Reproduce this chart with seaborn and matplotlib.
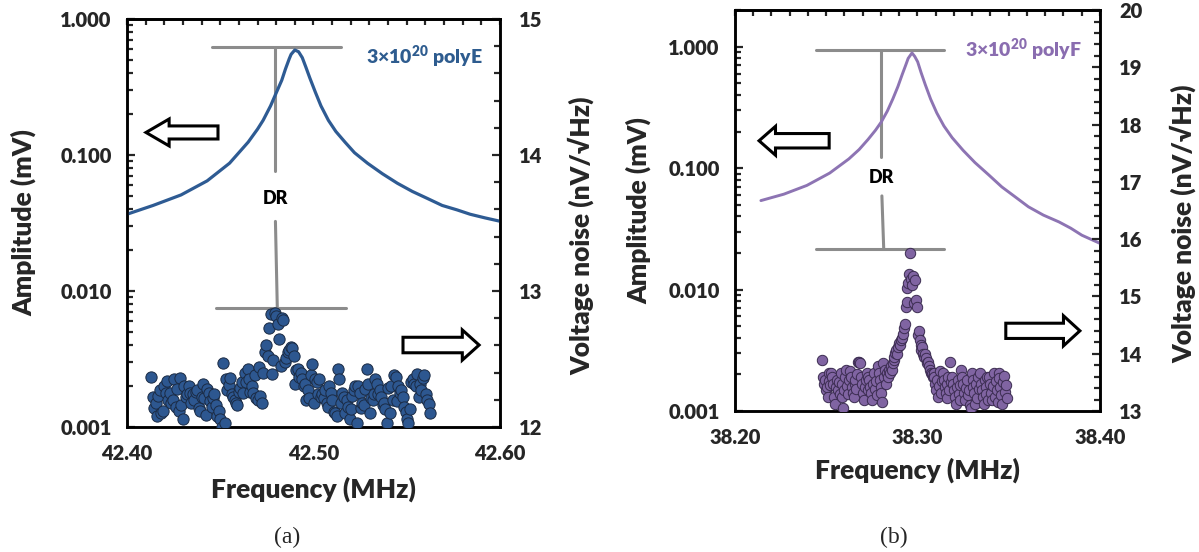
import numpy as np
import pandas as pd
import matplotlib
matplotlib.use("Agg")
import matplotlib.pyplot as plt
from matplotlib.ticker import MultipleLocator, LogLocator, FormatStrFormatter, NullFormatter
from matplotlib.patches import FancyArrow
import seaborn as sns

# ---- panel (a): 3x10^20 polyE ----
freq_a_line = [42.400, 42.414, 42.429, 42.443, 42.455, 42.465, 42.470, 42.473, 42.477,
               42.480, 42.483, 42.485, 42.487, 42.488, 42.490, 42.492, 42.494, 42.496,
               42.498, 42.501, 42.504, 42.508, 42.512, 42.517, 42.522, 42.529, 42.537,
               42.545, 42.553, 42.561, 42.569, 42.577, 42.584, 42.592, 42.600]
amp_a_line = [0.0367, 0.0426, 0.0509, 0.0646, 0.0871, 0.1245, 0.155, 0.180, 0.230,
              0.286, 0.355, 0.430, 0.510, 0.550, 0.592, 0.575, 0.520, 0.440,
              0.370, 0.290, 0.230, 0.180, 0.149, 0.124, 0.104, 0.087, 0.0728,
              0.062, 0.054, 0.048, 0.0426, 0.0395, 0.0367, 0.0345, 0.0326]
noise_a = [
    12.37, 12.22, 12.14, 12.18, 12.08, 12.23, 12.27, 12.10, 12.12, 12.30, 12.25, 12.34, 12.20,
    12.25, 12.18, 12.20, 12.35, 12.15, 12.28, 12.12, 12.36, 12.16, 12.06, 12.30, 12.22, 12.24,
    12.30, 12.25, 12.18, 12.24, 12.20, 12.26, 12.27, 12.14, 12.12, 12.22, 12.32, 12.21, 12.09,
    12.28, 12.25, 12.19, 12.15, 12.21, 12.24, 12.16, 12.08, 12.12, 12.06, 12.00, 12.47, 12.03,
    12.35, 12.27, 12.31, 12.36, 12.24, 12.22, 12.20, 12.18, 12.16, 12.26, 12.29, 12.33, 12.25,
    12.40, 12.33, 12.43, 12.35, 12.26, 12.30, 12.25, 12.38, 12.21, 12.20, 12.44, 12.23, 12.18,
    12.40, 12.55, 12.60, 12.52, 12.73, 12.83, 12.39, 12.49, 12.84, 12.82, 12.76, 12.65, 12.45,
    12.80, 12.79, 12.48, 12.51, 12.55, 12.57, 12.59, 12.58, 12.52, 12.32, 12.42, 12.43, 12.37,
    12.40, 12.35, 12.30, 12.32, 12.20, 12.27, 12.21, 12.38, 12.46, 12.18, 12.35, 12.33, 12.24,
    12.35, 12.22, 12.24, 12.21, 12.27, 12.18, 12.15, 12.30, 12.25, 12.20, 12.11, 12.10, 12.08,
    12.43, 12.35, 12.18, 12.25, 12.22, 12.10, 12.20, 12.15, 12.06, 12.13, 12.23, 12.27, 12.30,
    12.03, 12.30, 12.25, 12.14, 12.18, 12.16, 12.28, 12.43, 12.32, 12.10, 12.21, 12.20, 12.24,
    12.35, 12.32, 12.24, 12.27, 12.22, 12.16, 12.18, 12.13, 12.03, 12.29, 12.10, 12.30, 12.20,
    12.38, 12.37, 12.19, 12.30, 12.25, 12.27, 12.22, 12.15, 12.11, 12.06, 12.03, 12.13, 12.33,
    12.35, 12.32, 12.30, 12.39, 12.22, 12.32, 12.27, 12.36, 12.38, 12.24, 12.20, 12.17, 12.10,
]
sweep_a = (42.413, 42.5625)   # noise sweep range (MHz)

# ---- panel (b): 3x10^20 polyF ----
freq_b_line = [38.2142, 38.2268, 38.2394, 38.2519, 38.2624, 38.2680, 38.2729, 38.2770,
               38.2802, 38.2835, 38.2865, 38.2893, 38.2917, 38.2935, 38.2949, 38.2970,
               38.2985, 38.3001, 38.3020, 38.3043, 38.3072, 38.3106, 38.3145, 38.3190,
               38.3250, 38.3315, 38.3390, 38.3462, 38.3535, 38.3608, 38.3690, 38.3776,
               38.3840, 38.3901, 38.4000]
amp_b_line = [0.054, 0.061, 0.072, 0.091, 0.119, 0.142, 0.172, 0.205,
              0.240, 0.295, 0.371, 0.470, 0.593, 0.700, 0.800, 0.887,
              0.830, 0.750, 0.610, 0.485, 0.370, 0.284, 0.222, 0.178,
              0.140, 0.111, 0.088, 0.070, 0.058, 0.048, 0.041, 0.036,
              0.032, 0.028, 0.024]
noise_b = [
    13.89, 13.60, 13.48, 13.55, 13.37, 13.42, 13.25, 13.66, 13.52, 13.45,
    13.66, 13.60, 13.48, 13.25, 13.13, 13.42, 13.55, 13.37, 13.50, 13.30,
    13.66, 13.48, 13.25, 13.05, 13.37, 13.60, 13.72, 13.44, 13.30, 13.55,
    13.70, 13.60, 13.42, 13.31, 13.25, 13.48, 13.55, 13.38, 13.64, 13.86,
    13.86, 13.83, 13.60, 13.48, 13.31, 13.19, 13.42, 13.55, 13.66, 13.36,
    13.60, 13.55, 13.42, 13.31, 13.19, 13.48, 13.66, 13.38, 13.52, 13.28,
    13.78, 13.66, 13.55, 13.42, 13.31, 13.16, 13.83, 13.60, 13.72, 13.48,
    13.66, 13.60, 13.72, 13.66, 13.78, 13.72, 13.83, 13.89, 13.95, 14.02,
    14.06, 14.00, 14.12, 14.18, 14.15, 14.24, 14.28, 14.35, 14.45, 14.52,
    14.82, 14.91, 15.14, 15.23, 15.40, 15.75, 15.30, 15.20, 15.36, 14.88,
    15.28, 14.93, 14.82, 14.33, 14.40, 14.24, 14.15, 14.06, 14.12, 14.00,
    13.95, 14.00, 13.92, 13.83, 13.86, 13.78, 13.72, 13.66, 13.64, 13.60,
    13.66, 13.60, 13.48, 13.37, 13.55, 13.25, 13.44, 13.70, 13.32, 13.52,
    13.66, 13.55, 13.42, 13.31, 13.22, 13.48, 13.60, 13.36, 13.86, 13.50,
    13.60, 13.48, 13.37, 13.25, 13.13, 13.42, 13.55, 13.30, 13.19, 13.45,
    13.72, 13.60, 13.48, 13.31, 13.19, 13.40, 13.55, 13.28, 13.36, 13.10,
    13.05, 13.66, 13.55, 13.42, 13.31, 13.13, 13.48, 13.22, 13.60, 13.38,
    13.66, 13.48, 13.37, 13.25, 13.13, 13.55, 13.42, 13.30, 13.60, 13.20,
    13.60, 13.48, 13.31, 13.19, 13.44, 13.66, 13.25, 13.52, 13.36, 13.16,
    13.66, 13.57, 13.42, 13.28, 13.13, 13.50, 13.62, 13.34, 13.46, 13.22,
]
sweep_b = (38.2477, 38.3490)

sns.set_theme(style="white")
plt.rcParams["font.family"] = ["Lato", "DejaVu Sans"]
plt.rcParams["font.weight"] = "heavy"
plt.rcParams["axes.labelweight"] = "heavy"
plt.rcParams["mathtext.fontset"] = "custom"
plt.rcParams["mathtext.rm"] = "Lato:heavy"
plt.rcParams["mathtext.bf"] = "Lato:heavy"
plt.rcParams["axes.linewidth"] = 1.8

LABEL_SIZE = 19
TICK_SIZE = 14.5


def style_axes(ax, ax2, sec, xlim, ylim, y2lim, xminor_bottom):
    ax.set_yscale("log")
    ax.set_xlim(*xlim)
    ax.set_ylim(*ylim)
    ax2.set_ylim(*y2lim)

    ax.xaxis.set_major_locator(MultipleLocator(0.1))
    ax.xaxis.set_minor_locator(MultipleLocator(xminor_bottom))
    ax.xaxis.set_major_formatter(FormatStrFormatter("%.2f"))
    ax.yaxis.set_major_locator(LogLocator(base=10))
    ax.yaxis.set_minor_locator(LogLocator(base=10, subs=np.arange(2, 10)))
    ax.yaxis.set_major_formatter(FormatStrFormatter("%.3f"))
    ax.yaxis.set_minor_formatter(NullFormatter())

    sec.xaxis.set_major_locator(MultipleLocator(0.1))
    sec.xaxis.set_minor_locator(MultipleLocator(0.01))
    sec.tick_params(axis="x", which="both", direction="in", labeltop=False,
                    length=4, width=1.6)

    ax2.yaxis.set_major_locator(MultipleLocator(1))
    ax2.yaxis.set_minor_locator(MultipleLocator(0.2))

    ax.tick_params(axis="both", which="both", direction="in", width=1.6,
                   labelsize=TICK_SIZE, right=False, top=False)
    ax.tick_params(axis="both", which="major", length=6)
    ax.tick_params(axis="both", which="minor", length=4)
    ax.tick_params(axis="y", pad=11)
    ax.tick_params(axis="x", pad=12)
    ax2.tick_params(axis="y", which="both", direction="in", width=1.6,
                    labelsize=TICK_SIZE, pad=14)
    ax2.tick_params(axis="y", which="major", length=6)
    ax2.tick_params(axis="y", which="minor", length=4)
    for a in (ax, ax2):
        for s in a.spines.values():
            s.set_linewidth(1.8)
            s.set_color("black")
    ax.set_xlabel("")
    ax.set_ylabel("")
    ax2.set_ylabel("")


def hollow_arrow(ax, x0, x1, y, shaft, head, head_len):
    arr = FancyArrow(x0, y, x1 - x0, 0, width=shaft, head_width=head,
                     head_length=head_len, length_includes_head=True,
                     transform=ax.transAxes, facecolor="white",
                     edgecolor="black", linewidth=2.2, clip_on=False, zorder=5)
    ax.add_patch(arr)


fig = plt.figure(figsize=(11.99, 5.52), dpi=100)

# ================= panel (a) =================
ax_a = fig.add_axes([0.1059, 0.2264, 0.3111, 0.7391])
ax_a2 = ax_a.twinx()
sec_a = ax_a.secondary_xaxis("top")

line_a = pd.DataFrame({"freq": freq_a_line, "amp": amp_a_line})
pts_a = pd.DataFrame({"freq": np.linspace(*sweep_a, len(noise_a)), "noise": noise_a})

sns.lineplot(data=line_a, x="freq", y="amp", ax=ax_a, color="#2E5B93",
             linewidth=2.3, zorder=3)
sns.scatterplot(data=pts_a, x="freq", y="noise", ax=ax_a2, color="#2D5790",
                edgecolor="#1B2B44", linewidth=0.7, s=66, zorder=3)

style_axes(ax_a, ax_a2, sec_a, (42.40, 42.60), (0.001, 1.0), (12, 15), 0.01)

gray = "#8C8C8C"
ax_a.plot([42.4454, 42.5149], [0.628, 0.628], color=gray, lw=2.2, zorder=2)
ax_a.plot([42.4796, 42.4796], [0.628, 0.0766], color=gray, lw=2.2, zorder=2)
ax_a.plot([42.4796, 42.4806], [0.0325, 0.00754], color=gray, lw=2.2, zorder=2)
ax_a.plot([42.448, 42.5174], [0.00754, 0.00754], color=gray, lw=2.2, zorder=2)
ax_a.text(42.4796, 0.0476, "DR", ha="center", va="center", fontsize=13,
          color="black")

ax_a2.text(0.954, 0.909, "3×10$^{20}$ polyE", transform=ax_a.transAxes,
           ha="right", va="center", fontsize=14, color="#2E5C8F")

hollow_arrow(ax_a2, 0.244, 0.051, 0.722, 0.032, 0.066, 0.062)
hollow_arrow(ax_a2, 0.740, 0.944, 0.201, 0.038, 0.074, 0.045)

ax_a.set_xlabel("Frequency (MHz)", fontsize=LABEL_SIZE)
ax_a.xaxis.set_label_coords(0.5, -0.12)
ax_a.set_ylabel("Amplitude (mV)", fontsize=LABEL_SIZE)
ax_a.yaxis.set_label_coords(-0.244, 0.5)
ax_a2.set_ylabel("Voltage noise (nV/√Hz)", fontsize=LABEL_SIZE)
ax_a2.yaxis.set_label_coords(1.182, 0.47)

# ================= panel (b) =================
ax_b = fig.add_axes([0.6130, 0.2554, 0.3044, 0.7264])
ax_b2 = ax_b.twinx()
sec_b = ax_b.secondary_xaxis("top")

line_b = pd.DataFrame({"freq": freq_b_line, "amp": amp_b_line})
pts_b = pd.DataFrame({"freq": np.linspace(*sweep_b, len(noise_b)), "noise": noise_b})

sns.lineplot(data=line_b, x="freq", y="amp", ax=ax_b, color="#8D74B3",
             linewidth=2.1, zorder=3)
sns.scatterplot(data=pts_b, x="freq", y="noise", ax=ax_b2, color="#8064A2",
                edgecolor="#3B2C50", linewidth=0.7, s=56, zorder=3)

style_axes(ax_b, ax_b2, sec_b, (38.20, 38.40), (0.001, 2.0), (13, 20), 0.02)

ax_b.plot([38.2446, 38.3145], [0.942, 0.942], color=gray, lw=2.2, zorder=2)
ax_b.plot([38.2800, 38.2800], [0.942, 0.123], color=gray, lw=2.2, zorder=2)
ax_b.plot([38.2805, 38.2815], [0.059, 0.0217], color=gray, lw=2.2, zorder=2)
ax_b.plot([38.2446, 38.3144], [0.0217, 0.0217], color=gray, lw=2.2, zorder=2)
ax_b.text(38.2800, 0.084, "DR", ha="center", va="center", fontsize=13,
          color="black")

ax_b2.text(0.951, 0.901, "3×10$^{20}$ polyF", transform=ax_b.transAxes,
           ha="right", va="center", fontsize=14, color="#8A6DB0")

hollow_arrow(ax_b2, 0.258, 0.066, 0.674, 0.036, 0.072, 0.045)
hollow_arrow(ax_b2, 0.742, 0.945, 0.200, 0.038, 0.075, 0.045)

ax_b.set_xlabel("Frequency (MHz)", fontsize=LABEL_SIZE)
ax_b.xaxis.set_label_coords(0.5, -0.117)
ax_b.set_ylabel("Amplitude (mV)", fontsize=LABEL_SIZE)
ax_b.yaxis.set_label_coords(-0.230, 0.5)
ax_b2.set_ylabel("Voltage noise (nV/√Hz)", fontsize=LABEL_SIZE)
ax_b2.yaxis.set_label_coords(1.192, 0.467)

# panel captions
fig.text(0.2394, 0.027, "(a)", ha="center", va="center", fontsize=17,
         fontweight="normal", family=["Liberation Serif", "DejaVu Serif"])
fig.text(0.7456, 0.027, "(b)", ha="center", va="center", fontsize=17,
         fontweight="normal", family=["Liberation Serif", "DejaVu Serif"])

fig.savefig("out.png", dpi=100)
